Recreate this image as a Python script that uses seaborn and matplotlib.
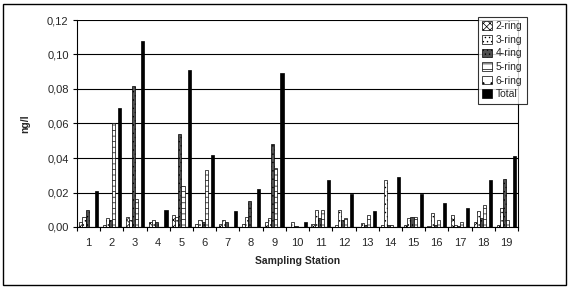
import numpy as np
import pandas as pd
import matplotlib
matplotlib.use("Agg")
import matplotlib.pyplot as plt
from matplotlib.patches import Patch, Rectangle
from matplotlib.ticker import FuncFormatter, FixedLocator
import seaborn as sns

stations = [str(i) for i in range(1, 20)]
series = ["2-ring", "3-ring", "4-ring", "5-ring", "6-ring", "Total"]

ring2 = [0.003, 0.001, 0.006, 0.003, 0.007, 0.002, 0.002, 0.002, 0.003, 0.000,
         0.002, 0.001, 0.000, 0.001, 0.001, 0.0005, 0.007, 0.003, 0.001]
ring3 = [0.006, 0.005, 0.004, 0.004, 0.006, 0.004, 0.004, 0.006, 0.005, 0.003,
         0.010, 0.010, 0.0025, 0.027, 0.005, 0.008, 0.001, 0.009, 0.011]
ring4 = [0.010, 0.004, 0.082, 0.003, 0.054, 0.003, 0.003, 0.015, 0.048, 0.0005,
         0.005, 0.004, 0.001, 0.001, 0.006, 0.001, 0.0005, 0.005, 0.028]
ring5 = [0.000, 0.060, 0.016, 0.000, 0.024, 0.033, 0.000, 0.000, 0.034, 0.000,
         0.010, 0.005, 0.007, 0.001, 0.006, 0.004, 0.003, 0.013, 0.004]
ring6 = [0.0] * 19
total = [0.021, 0.069, 0.108, 0.010, 0.091, 0.042, 0.009, 0.022, 0.089, 0.003,
         0.027, 0.019, 0.0095, 0.029, 0.019, 0.014, 0.011, 0.027, 0.041]

values = {"2-ring": ring2, "3-ring": ring3, "4-ring": ring4,
          "5-ring": ring5, "6-ring": ring6, "Total": total}
df = pd.DataFrame([(s, st, v) for s in series for st, v in zip(stations, values[s])],
                  columns=["series", "station", "value"])

sns.set_style("white")
plt.rcParams["font.family"] = ["Liberation Sans", "DejaVu Sans"]
plt.rcParams["hatch.linewidth"] = 0.5

fig = plt.figure(figsize=(5.71, 2.89), dpi=100)
ax = fig.add_axes([77/571, 1-227/289, (518-77)/571, (227-20)/289])

sns.barplot(data=df, x="station", y="value", hue="series", order=stations,
            hue_order=series, width=0.8, gap=0, ax=ax, legend=False,
            palette=["white"] * 6, saturation=1, errorbar=None)

faces = ["white", "white", "#505050", "white", "white", "black"]
hatches = ["xxxxx", "....", "....", "---", "..", None]
for cont, fc, h in zip(ax.containers, faces, hatches):
    for p in cont:
        p.set_facecolor(fc)
        p.set_edgecolor("black")
        p.set_linewidth(0.5)
        if h:
            p.set_hatch(h)

ax.set_ylim(0, 0.12)
ax.set_xlim(-0.5, 18.5)
ax.set_yticks(np.arange(0, 0.121, 0.02))
ax.yaxis.set_major_formatter(FuncFormatter(lambda v, p: f"{v:.2f}".replace(".", ",")))
ax.yaxis.grid(True, color="black", linewidth=0.8)
ax.set_axisbelow(True)
ax.xaxis.set_minor_locator(FixedLocator(np.arange(-0.5, 19, 1)))
ax.tick_params(axis="x", which="major", length=0, labelsize=8, pad=8)
ax.tick_params(axis="x", which="minor", length=3, width=0.8, direction="out", color="black", bottom=True)
ax.tick_params(axis="y", length=3, width=0.8, direction="out", color="black", left=True, labelsize=8, pad=3)
for sp in ax.spines.values():
    sp.set_color("black")
    sp.set_linewidth(0.8)
ax.spines["top"].set_visible(False)

ax.set_xlabel("Sampling Station", fontsize=7.5, fontweight="bold", labelpad=6)
ax.set_ylabel("ng/l", fontsize=7.5, fontweight="bold", labelpad=12)

handles = [Patch(facecolor=fc, edgecolor="black", linewidth=0.5, hatch=h) for fc, h in zip(faces, hatches)]
leg = fig.legend(handles, series, loc="upper left", bbox_to_anchor=(478/571, 1-17/289),
                 fontsize=7.5, frameon=True, fancybox=False, edgecolor="black",
                 handlelength=0.9, handleheight=0.9, handletextpad=0.4,
                 labelspacing=0.35, borderpad=0.4, borderaxespad=0)
leg.get_frame().set_linewidth(0.8)

fig.patches.append(Rectangle((3/571, 4/289), 563/571, 281/289, transform=fig.transFigure,
                             fill=False, edgecolor="black", linewidth=1))

fig.savefig("out.png", dpi=100)
